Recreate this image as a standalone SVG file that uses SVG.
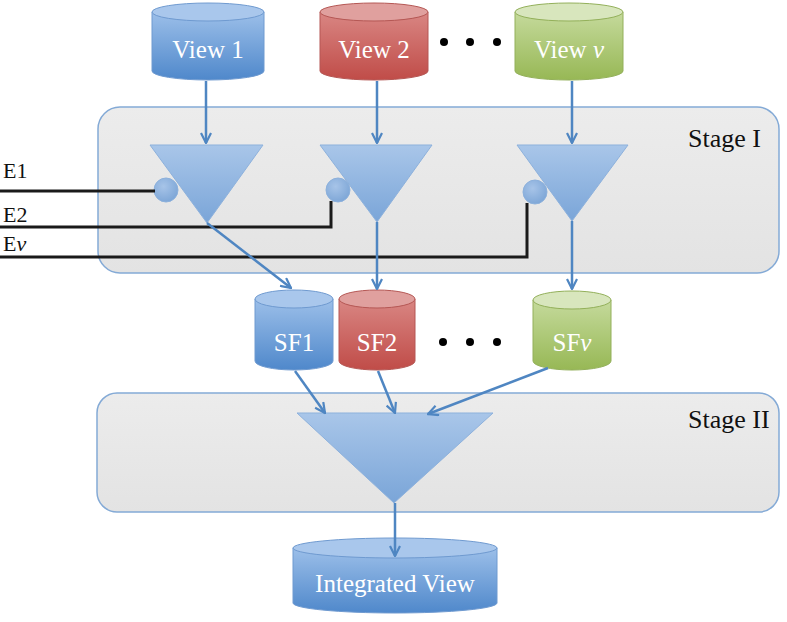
<svg xmlns="http://www.w3.org/2000/svg" width="787" height="622" viewBox="0 0 787 622">
<defs>
<linearGradient id="gBlue" x1="0" y1="0" x2="0" y2="1"><stop offset="0" stop-color="#9cbfe9"/><stop offset="1" stop-color="#4f88cb"/></linearGradient>
<linearGradient id="gRed" x1="0" y1="0" x2="0" y2="1"><stop offset="0" stop-color="#d98683"/><stop offset="1" stop-color="#c04c48"/></linearGradient>
<linearGradient id="gGreen" x1="0" y1="0" x2="0" y2="1"><stop offset="0" stop-color="#c5da9c"/><stop offset="1" stop-color="#97b855"/></linearGradient>
<linearGradient id="gTri" x1="0" y1="0" x2="0" y2="1"><stop offset="0" stop-color="#a9c6e9"/><stop offset="1" stop-color="#7aa5d8"/></linearGradient>
<linearGradient id="gStage" x1="0" y1="0" x2="0" y2="1"><stop offset="0" stop-color="#ececec"/><stop offset="1" stop-color="#e3e3e3"/></linearGradient>
<radialGradient id="gCirc" cx="0.4" cy="0.35" r="0.7"><stop offset="0" stop-color="#a7c4e8"/><stop offset="1" stop-color="#7ca5d6"/></radialGradient>
<marker id="ah" viewBox="0 0 12 12" refX="11" refY="6" markerWidth="12" markerHeight="12" markerUnits="userSpaceOnUse" orient="auto">
<path d="M1,1 L11,6 L1,11" fill="none" stroke="#4f86c2" stroke-width="2.2"/>
</marker>
</defs>
<style>
.stage{fill:url(#gStage);stroke:#84aad6;stroke-width:1.5}
.tri{fill:url(#gTri);stroke:#8db1dc;stroke-width:1}
.circ{fill:url(#gCirc);stroke:#8db1dc;stroke-width:1}
.blue .body{fill:url(#gBlue);stroke:#6f9ad0;stroke-width:1}
.blue .top{fill:#a9c7ec;stroke:#6f9ad0;stroke-width:1}
.red .body{fill:url(#gRed);stroke:#b55754;stroke-width:1}
.red .top{fill:#e0a09e;stroke:#b55754;stroke-width:1}
.green .body{fill:url(#gGreen);stroke:#93b05a;stroke-width:1}
.green .top{fill:#d8e6bd;stroke:#93b05a;stroke-width:1}
.lbl{font-family:"Liberation Serif",serif;font-size:25px;fill:#ffffff;text-anchor:middle}
.stl{font-family:"Liberation Serif",serif;font-size:26px;fill:#111111}
.el{font-family:"Liberation Serif",serif;font-size:22px;fill:#111111}
.conn{fill:none;stroke:#4f86c2;stroke-width:2.5;marker-end:url(#ah)}
.eline{fill:none;stroke:#1a1a1a;stroke-width:3}
.dot{fill:#000000}
</style>

<g id="stage1"><rect class="stage" x="98" y="107" width="681" height="166" rx="22"/><text class="stl" x="688" y="147">Stage I</text></g>
<g id="stage2"><rect class="stage" x="97" y="393" width="682" height="119" rx="20"/><text class="stl" x="688" y="428">Stage II</text></g>

<g id="view1" class="blue">
<path class="body" d="M152,12 L152,71 A56,9 0 0 0 264,71 L264,12 Z"/>
<ellipse class="top" cx="208" cy="12" rx="56" ry="9"/>
<text class="lbl" x="208" y="58">View 1</text></g>
<g id="view2" class="red">
<path class="body" d="M320,12 L320,71 A54,9 0 0 0 428,71 L428,12 Z"/>
<ellipse class="top" cx="374" cy="12" rx="54" ry="9"/>
<text class="lbl" x="374" y="58">View 2</text></g>
<g id="viewv" class="green">
<path class="body" d="M515,12 L515,71 A54,9 0 0 0 623,71 L623,12 Z"/>
<ellipse class="top" cx="569" cy="12" rx="54" ry="9"/>
<text class="lbl" x="569" y="58">View <tspan font-style="italic">v</tspan></text></g>
<g id="dots1"><circle class="dot" cx="444" cy="42" r="4"/><circle class="dot" cx="470" cy="42" r="4"/><circle class="dot" cx="497" cy="42" r="4"/></g>

<g id="elabels">
<text class="el" x="3" y="178">E1</text>
<text class="el" x="3" y="222">E2</text>
<text class="el" x="3" y="251">E<tspan font-style="italic">v</tspan></text>
</g>

<g id="tri1"><polygon class="tri" points="150,145 263,145 207,223"/><circle class="circ" cx="166" cy="190" r="12"/></g>
<g id="tri2"><polygon class="tri" points="320,145 432,145 377,222"/><circle class="circ" cx="338" cy="190" r="12"/></g>
<g id="tri3"><polygon class="tri" points="517,145 628,145 572,221"/><circle class="circ" cx="535" cy="192" r="12"/></g>

<g id="sf1" class="blue">
<path class="body" d="M255,299 L255,361 A39,9 0 0 0 333,361 L333,299 Z"/>
<ellipse class="top" cx="294" cy="299" rx="39" ry="9"/>
<text class="lbl" x="294" y="351">SF1</text></g>
<g id="sf2" class="red">
<path class="body" d="M339,299 L339,361 A38,9 0 0 0 415,361 L415,299 Z"/>
<ellipse class="top" cx="377" cy="299" rx="38" ry="9"/>
<text class="lbl" x="377" y="351">SF2</text></g>
<g id="sfv" class="green">
<path class="body" d="M533,300 L533,361 A39,9 0 0 0 611,361 L611,300 Z"/>
<ellipse class="top" cx="572" cy="300" rx="39" ry="9"/>
<text class="lbl" x="572" y="351">SF<tspan font-style="italic">v</tspan></text></g>
<g id="dots2"><circle class="dot" cx="443" cy="342" r="4"/><circle class="dot" cx="470" cy="342" r="4"/><circle class="dot" cx="497" cy="342" r="4"/></g>

<g id="fuse"><polygon class="tri" points="297,413 493,413 394,503"/></g>

<g id="integrated" class="blue">
<path class="body" d="M293,548 L293,603 A102,10 0 0 0 497,603 L497,548 Z"/>
<ellipse class="top" cx="395" cy="548" rx="102" ry="10"/>
<text class="lbl" x="395" y="592">Integrated View</text></g>

<g id="connectors">
<polyline class="eline" points="0,191 155,191"/>
<polyline class="eline" points="0,227 331,227 331,201"/>
<polyline class="eline" points="0,257 527,257 527,203"/>
<line class="conn" x1="206" y1="81" x2="206" y2="143"/>
<line class="conn" x1="377" y1="81" x2="377" y2="143"/>
<line class="conn" x1="572" y1="81" x2="572" y2="143"/>
<line class="conn" x1="207" y1="223" x2="291" y2="288"/>
<line class="conn" x1="377" y1="222" x2="377" y2="289"/>
<line class="conn" x1="572" y1="221" x2="572" y2="289"/>
<line class="conn" x1="295" y1="371" x2="325" y2="413"/>
<line class="conn" x1="378" y1="371" x2="395" y2="413"/>
<line class="conn" x1="548" y1="368" x2="428" y2="414"/>
<line class="conn" x1="395" y1="503" x2="395" y2="556"/>
</g>
</svg>
